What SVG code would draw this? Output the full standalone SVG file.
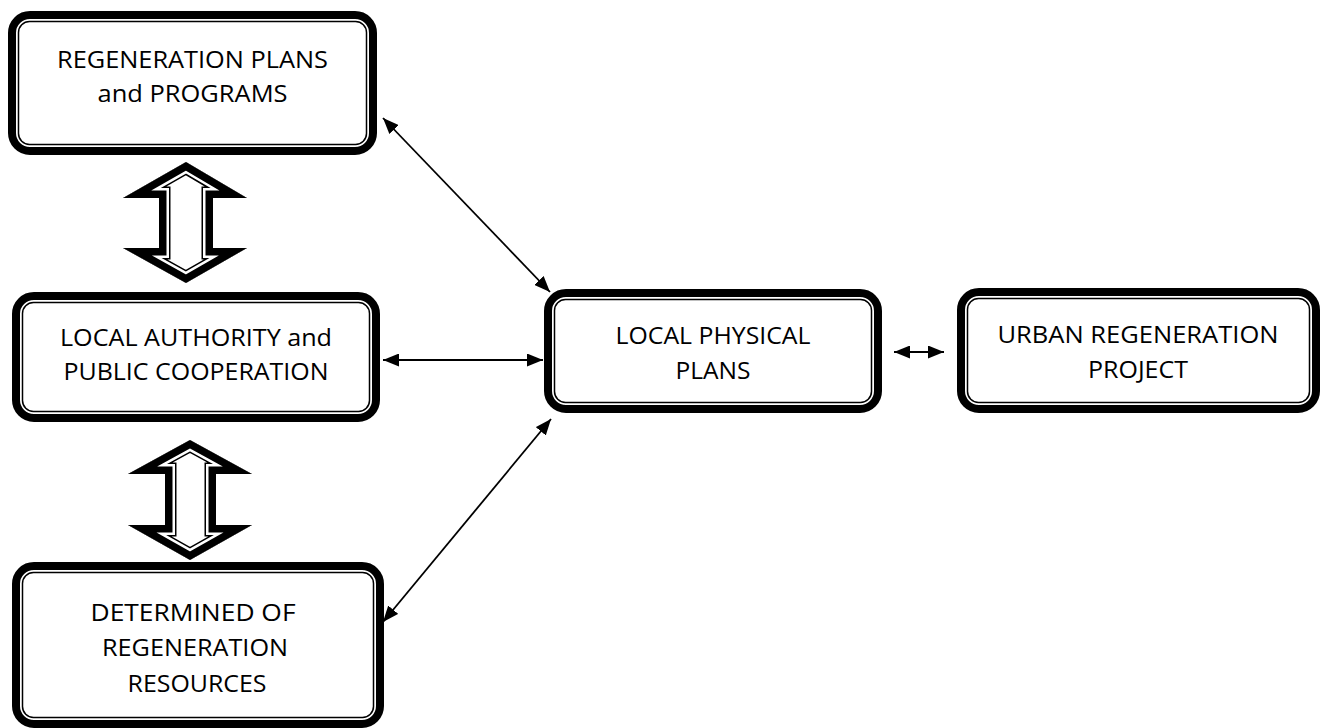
<svg xmlns="http://www.w3.org/2000/svg" width="1327" height="728" viewBox="0 0 1327 728">
  <style>
    .frame { fill: #fff; stroke: #000; stroke-width: 8; }
    .inner { fill: none; stroke: #000; stroke-width: 1.5; }
    .label { font-family: "Open Sans", "Liberation Sans", sans-serif; font-size: 24px; fill: #000; text-anchor: middle; }
    .link { stroke: #000; stroke-width: 1.8; fill: none; marker-start: url(#head); marker-end: url(#head); }
  </style>
  <defs>
    <marker id="head" markerUnits="userSpaceOnUse" markerWidth="17" markerHeight="13" refX="16" refY="6.5" orient="auto-start-reverse">
      <path d="M0,0 L16,6.5 L0,13 Z" fill="#000"/>
    </marker>
    <!-- hollow double-headed block arrows -->
    <path id="blockA" d="M186,162 L247,198 L213,198 L213,248 L247,248 L186,283 L123,248 L159,248 L159,198 L123,198 Z"/>
    <path id="blockB" d="M190,440 L252,474 L216,474 L216,525 L252,525 L190,560 L128,525 L165,525 L165,474 L128,474 Z"/>
    <clipPath id="clipA"><use href="#blockA"/></clipPath>
    <clipPath id="clipB"><use href="#blockB"/></clipPath>
  </defs>

  <rect width="1327" height="728" fill="#fff"/>

  <!-- block arrows between the left-hand column boxes -->
  <g id="block-arrow-top" clip-path="url(#clipA)" stroke-linejoin="miter" stroke-miterlimit="12">
    <use href="#blockA" fill="#fff" stroke="#000" stroke-width="23"/>
    <use href="#blockA" fill="none" stroke="#fff" stroke-width="20"/>
    <use href="#blockA" fill="none" stroke="#000" stroke-width="15"/>
  </g>
  <g id="block-arrow-bottom" clip-path="url(#clipB)" stroke-linejoin="miter" stroke-miterlimit="12">
    <use href="#blockB" fill="#fff" stroke="#000" stroke-width="23"/>
    <use href="#blockB" fill="none" stroke="#fff" stroke-width="20"/>
    <use href="#blockB" fill="none" stroke="#000" stroke-width="15"/>
  </g>

  <!-- connectors -->
  <g id="connectors">
    <line class="link" x1="383" y1="118" x2="550" y2="292"/>
    <line class="link" x1="383" y1="360" x2="543" y2="360"/>
    <line class="link" x1="383" y1="622" x2="551" y2="419"/>
    <line class="link" x1="894" y1="352" x2="944" y2="352"/>
  </g>

  <!-- nodes -->
  <g id="regeneration-plans">
    <rect class="frame" x="12" y="15" width="361" height="136" rx="18"/>
    <rect class="inner" x="18.5" y="21.5" width="348" height="123" rx="11"/>
    <text class="label" x="192.5" y="68" textLength="271" lengthAdjust="spacingAndGlyphs">REGENERATION PLANS</text>
    <text class="label" x="192.5" y="102" textLength="190" lengthAdjust="spacingAndGlyphs">and PROGRAMS</text>
  </g>

  <g id="local-authority">
    <rect class="frame" x="16" y="296" width="360" height="122" rx="18"/>
    <rect class="inner" x="22.5" y="302.5" width="347" height="109" rx="11"/>
    <text class="label" x="196" y="346" textLength="272" lengthAdjust="spacingAndGlyphs">LOCAL AUTHORITY and</text>
    <text class="label" x="196" y="380" textLength="265" lengthAdjust="spacingAndGlyphs">PUBLIC COOPERATION</text>
  </g>

  <g id="local-physical-plans">
    <rect class="frame" x="548" y="293" width="330" height="116" rx="18"/>
    <rect class="inner" x="554.5" y="299.5" width="317" height="103" rx="11"/>
    <text class="label" x="713" y="344" textLength="195" lengthAdjust="spacingAndGlyphs">LOCAL PHYSICAL</text>
    <text class="label" x="713" y="379" textLength="75" lengthAdjust="spacingAndGlyphs">PLANS</text>
  </g>

  <g id="urban-regeneration-project">
    <rect class="frame" x="961" y="292" width="355" height="117" rx="18"/>
    <rect class="inner" x="967.5" y="298.5" width="342" height="104" rx="11"/>
    <text class="label" x="1138" y="343" textLength="281" lengthAdjust="spacingAndGlyphs">URBAN REGENERATION</text>
    <text class="label" x="1138" y="378" textLength="100" lengthAdjust="spacingAndGlyphs">PROJECT</text>
  </g>

  <g id="regeneration-resources">
    <rect class="frame" x="16" y="566" width="364" height="158" rx="18"/>
    <rect class="inner" x="22.5" y="572.5" width="351" height="145" rx="11"/>
    <text class="label" x="193" y="621" textLength="205" lengthAdjust="spacingAndGlyphs">DETERMINED OF</text>
    <text class="label" x="195" y="656" textLength="186" lengthAdjust="spacingAndGlyphs">REGENERATION</text>
    <text class="label" x="197" y="692" textLength="139" lengthAdjust="spacingAndGlyphs">RESOURCES</text>
  </g>
</svg>
